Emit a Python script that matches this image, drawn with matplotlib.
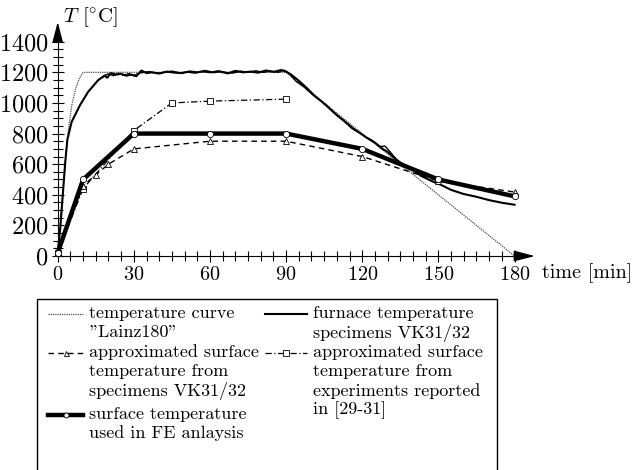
import matplotlib
matplotlib.use('Agg')
import matplotlib.pyplot as plt
from matplotlib.lines import Line2D
from matplotlib.patches import Rectangle

plt.rcParams['font.family'] = 'serif'
plt.rcParams['font.serif'] = ['cmr10', 'DejaVu Serif']
plt.rcParams['mathtext.fontset'] = 'cm'
plt.rcParams['axes.formatter.use_mathtext'] = True

# temperature curve "Lainz180"
lainz_t = [0, 4, 5.5, 7, 8.5, 10, 90, 180]
lainz_T = [20, 800, 980, 1090, 1160, 1200, 1200, 0]

# furnace temperature VK31/32 (two records)
furn_a_t = [0, 1, 2, 3, 3.8, 5.5, 8.8, 12, 16, 18.5, 19.5, 21, 23, 25, 27, 29, 31, 33, 35, 37,
            40, 43, 46, 49, 52, 55, 58, 61, 64, 67, 70, 73, 76, 79, 82, 85, 88, 90, 92, 95,
            98, 101, 104, 107, 110, 113, 116, 119, 122, 125, 128, 130, 132, 135, 138, 140,
            143, 148, 151, 155, 160, 165, 170, 175, 180]
furn_a_T = [20, 180, 400, 620, 760, 877, 986, 1073, 1150, 1178, 1165, 1195, 1185, 1190, 1178,
            1185, 1175, 1212, 1195, 1200, 1192, 1205, 1198, 1195, 1206, 1200, 1210, 1200, 1205,
            1193, 1210, 1200, 1205, 1198, 1212, 1203, 1215, 1205, 1185, 1145, 1100, 1050, 1010,
            965, 920, 880, 835, 805, 770, 740, 700, 680, 650, 610, 580, 565,
            525, 485, 465, 432, 405, 387, 365, 348, 335]
furn_b_t = [16, 18.5, 20, 22, 24, 26, 28, 30, 32, 34, 36, 39, 42, 45, 48, 51, 54, 57, 60, 63,
            66, 69, 72, 75, 78, 81, 84, 87, 89, 91, 94, 97, 100, 103, 106, 109, 112, 115, 118,
            121, 124, 127, 129, 131, 134, 138]
furn_b_T = [1150, 1180, 1190, 1178, 1195, 1180, 1192, 1178, 1195, 1200, 1205, 1195, 1200, 1208,
            1197, 1202, 1195, 1205, 1198, 1210, 1200, 1195, 1208, 1200, 1210, 1200, 1208, 1200,
            1215, 1195, 1140, 1105, 1060, 1020, 985, 935, 895, 855, 815, 780, 755, 715, 718,
            680, 620, 580]

# approximated surface temperature from specimens VK31/32
vk_t = [0, 10, 15, 20, 30, 60, 90, 120, 150, 180]
vk_T = [20, 460, 530, 600, 700, 750, 750, 650, 490, 418]

# approximated surface temperature from experiments [29-31]
exp_t = [0, 10, 30, 45, 60, 90]
exp_T = [20, 440, 820, 1000, 1012, 1025]

# surface temperature used in FE analysis
fe_t = [0, 10, 30, 60, 90, 120, 150, 180]
fe_T = [20, 500, 800, 800, 800, 700, 500, 390]

W, H = 634, 470
fig = plt.figure(figsize=(W / 100, H / 100), dpi=100)
ax = fig.add_axes([0.0790, 0.4455, 0.7726, 0.5113])
ax.set_xlim(-3, 190)
ax.set_ylim(-30, 1540)

for s in ['top', 'right']:
    ax.spines[s].set_visible(False)
ax.spines['left'].set_position(('data', 0))
ax.spines['bottom'].set_position(('data', 0))
ax.spines['left'].set_bounds(0, 1490)
ax.spines['bottom'].set_bounds(0, 183)
arrow = dict(arrowstyle='-|>,head_length=0.85,head_width=0.22', color='k', lw=1,
             shrinkA=0, shrinkB=0, mutation_scale=15)
ax.annotate('', xy=(188, 0), xytext=(180, 0), arrowprops=arrow, annotation_clip=False)
ax.annotate('', xy=(0, 1530), xytext=(0, 1480), arrowprops=arrow, annotation_clip=False)

ax.set_xticks(range(0, 181, 30))
ax.set_xticks(range(0, 181, 5), minor=True)
ax.set_yticks(range(0, 1401, 200))
ax.set_yticks(range(0, 1401, 50), minor=True)
ax.tick_params(which='both', direction='inout', width=0.8)
ax.tick_params(which='major', length=9)
ax.tick_params(which='minor', length=7)
ax.tick_params(axis='x', labelsize=14.5, pad=3)
ax.tick_params(axis='y', labelsize=17.5, pad=2)

lainz_style = dict(color='0.3', lw=0.9, ls=(0, (1, 0.8)))
furn_style = dict(color='k', lw=1.5, ls='-')
vk_style = dict(color='k', lw=1.0, ls=(0, (4, 3)), marker='^', ms=4.5, mfc='white', mec='k', mew=0.6)
exp_style = dict(color='k', lw=0.9, ls=(0, (5, 2, 1, 2)), marker='s', ms=5, mfc='white', mec='k', mew=0.6)
fe_style = dict(color='k', lw=3.2, ls='-', marker='o', ms=4.5, mfc='white', mec='k', mew=0.6)

ax.plot(lainz_t, lainz_T, **lainz_style, zorder=2)
ax.plot(furn_a_t, furn_a_T, **furn_style, zorder=3)
ax.plot(furn_b_t, furn_b_T, color='k', lw=1.0, zorder=3)
ax.plot(exp_t, exp_T, **exp_style, zorder=3)
ax.plot(vk_t, vk_T, **vk_style, zorder=4)
ax.plot(fe_t, fe_T, **fe_style, zorder=5)

fig.text(63 / W, 1 - 17 / H, r'$T$ [$^{\circ}$C]', fontsize=15, va='center')
fig.text(542 / W, 1 - 273 / H, 'time [min]', fontsize=14.5, va='center')

# legend drawn by hand (handle on first text line)
fig.add_artist(Rectangle((37 / W, -0.3), 460 / W, (H - 299) / H + 0.3,
                         transform=fig.transFigure, fill=False, lw=1.0, ec='k'))

left_entries = [
    (lainz_style, ['temperature curve', '"Lainz180"'], 313),
    (vk_style, ['approximated surface', 'temperature from', 'specimens VK31/32'], 352),
    (fe_style, ['surface temperature', 'used in FE anlaysis'], 414),
]
right_entries = [
    (furn_style, ['furnace temperature', 'specimens VK31/32'], 313),
    (exp_style, ['approximated surface', 'temperature from', 'experiments reported', 'in [29-31]'], 352),
]
step = 19.5
for entries, hx0, hx1, tx in [(left_entries, 48, 83, 89), (right_entries, 265, 307, 313)]:
    for style, lines, y0 in entries:
        st = dict(style)
        mk = st.pop('marker', None)
        ms = st.pop('ms', None)
        mfc = st.pop('mfc', None)
        mec = st.pop('mec', None)
        mew = st.pop('mew', None)
        yy = 1 - (y0 + 1) / H
        fig.add_artist(Line2D([hx0 / W, hx1 / W], [yy, yy], transform=fig.transFigure, **st))
        if mk:
            fig.add_artist(Line2D([(hx0 + hx1) / 2 / W], [yy], transform=fig.transFigure,
                                  ls='none', marker=mk, ms=ms * 0.8, mfc=mfc, mec=mec, mew=mew))
        for i, line in enumerate(lines):
            fig.text(tx / W, 1 - (y0 + i * step) / H, line, fontsize=13, va='center')

fig.savefig('out.png', dpi=100)
